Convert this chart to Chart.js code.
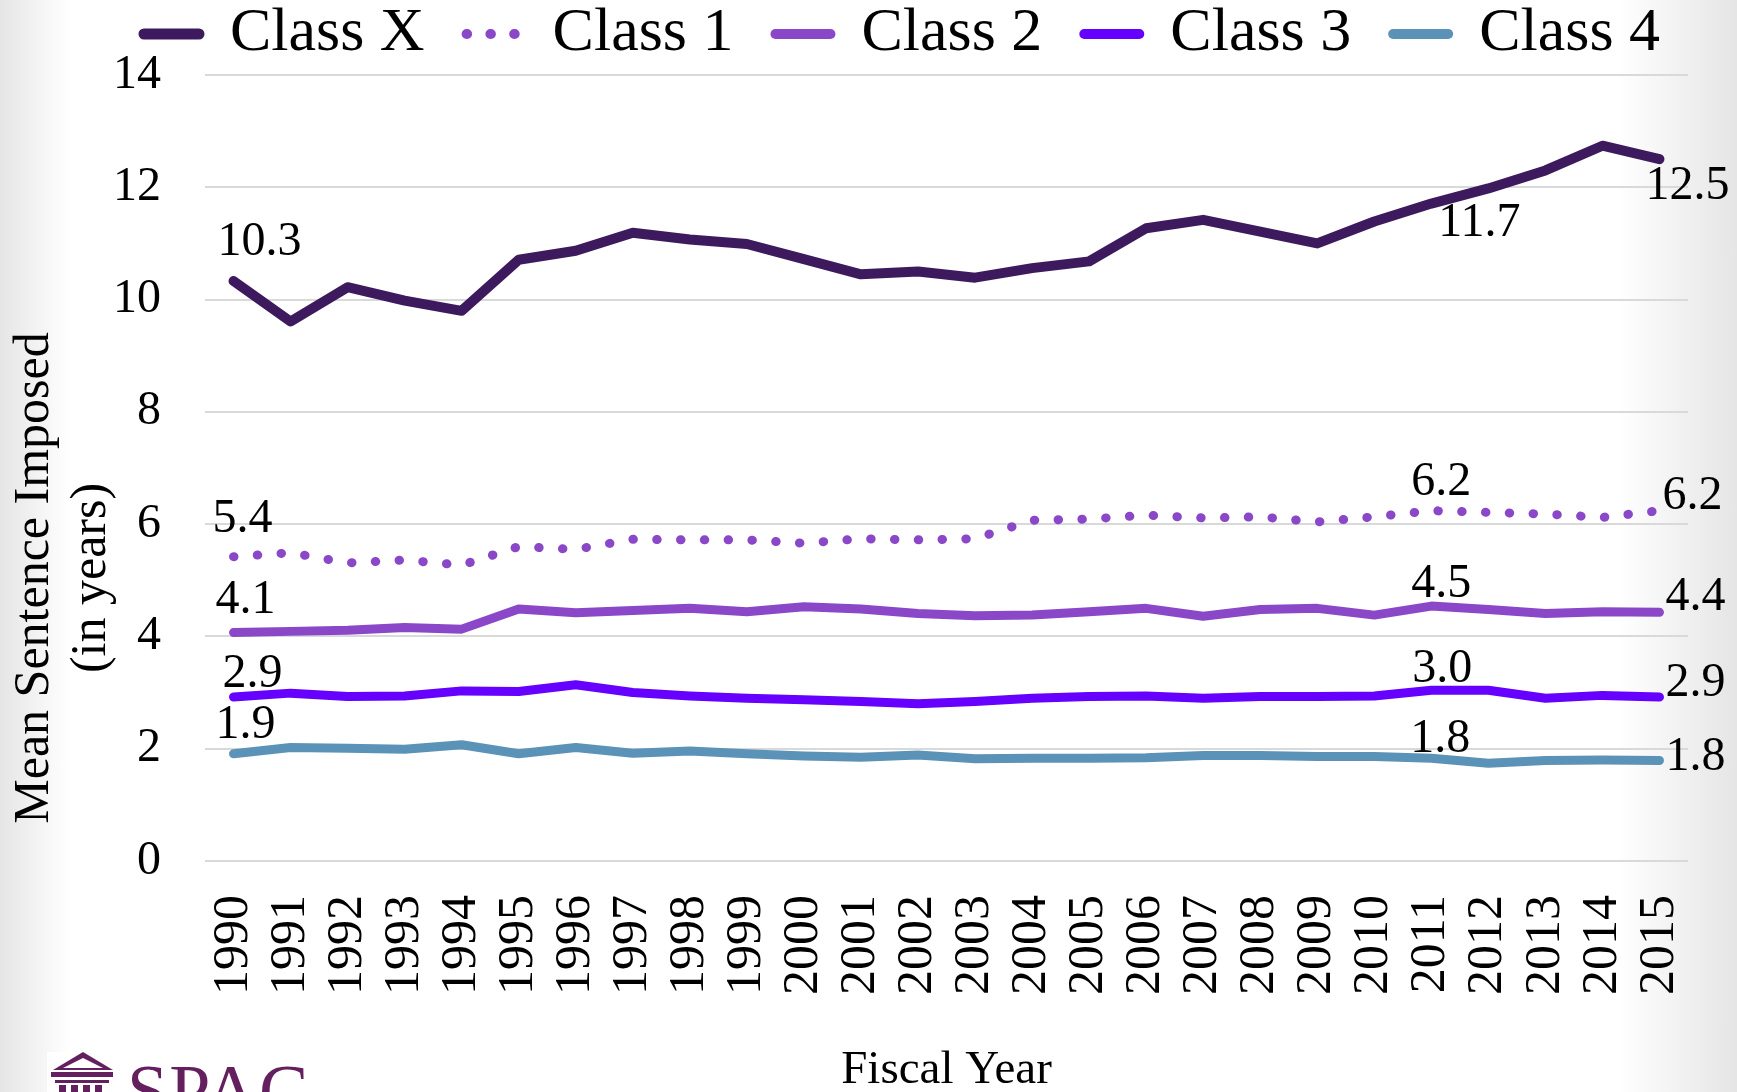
<!DOCTYPE html>
<html>
<head>
<meta charset="utf-8">
<script src="https://cdn.jsdelivr.net/npm/chart.js@4.4.1/dist/chart.umd.min.js"></script>
<style>
  html, body { margin: 0; padding: 0; width: 1737px; height: 1092px; overflow: hidden; }
  body {
    position: relative;
    background:
      linear-gradient(to right, rgba(0,0,0,0.10) 0px, rgba(0,0,0,0) 70px),
      linear-gradient(to left, rgba(0,0,0,0.10) 0px, rgba(0,0,0,0) 120px),
      #ffffff;
  }
  #c { position: absolute; left: 0; top: -39px; }
  #logo { position: absolute; left: 47px; top: 1052px; width: 273px; height: 60px; background: #fff; overflow: hidden; }
  #logo .txt { position: absolute; left: 80px; top: 2px; font-family: "Liberation Serif", serif; font-size: 74px; line-height: 74px; color: #641f5f; letter-spacing: 1px; }
  #logo .roof { position: absolute; left: 6px; top: 0; width: 0; height: 0; border-left: 30px solid transparent; border-right: 30px solid transparent; border-bottom: 18px solid #641f5f; }
  #logo .roofin { position: absolute; left: 16px; top: 6px; width: 0; height: 0; border-left: 20px solid transparent; border-right: 20px solid transparent; border-bottom: 10px solid #fff; }
  #logo .bar { position: absolute; left: 4px; top: 20px; width: 62px; height: 5px; background: #641f5f; }
  #logo .bar2 { position: absolute; left: 8px; top: 28px; width: 54px; height: 3px; background: #641f5f; }
  #logo .col { position: absolute; top: 33px; width: 7px; height: 20px; background: #641f5f; }
</style>
</head>
<body>
<canvas id="c" width="1737" height="1131"></canvas>
<div id="logo">
  <div class="roof"></div><div class="roofin"></div>
  <div class="bar"></div><div class="bar2"></div>
  <div class="col" style="left:12px"></div><div class="col" style="left:24px"></div><div class="col" style="left:36px"></div><div class="col" style="left:48px"></div>
  <div class="txt">SPAC</div>
</div>
<script>
const years = ['1990','1991','1992','1993','1994','1995','1996','1997','1998','1999','2000','2001','2002','2003','2004','2005','2006','2007','2008','2009','2010','2011','2012','2013','2014','2015'];
const seriesNames = ['Class X', 'Class 1', 'Class 2', 'Class 3', 'Class 4'];
const classX = [10.33, 9.61, 10.22, 9.98, 9.80, 10.71, 10.87, 11.19, 11.07, 10.99, 10.72, 10.45, 10.50, 10.39, 10.56, 10.68, 11.27, 11.42, 11.21, 11.00, 11.39, 11.71, 11.98, 12.30, 12.74, 12.50];
const class1 = [5.42, 5.49, 5.31, 5.36, 5.27, 5.60, 5.55, 5.73, 5.72, 5.72, 5.66, 5.74, 5.72, 5.74, 6.07, 6.09, 6.16, 6.11, 6.13, 6.04, 6.13, 6.24, 6.21, 6.18, 6.12, 6.24];
const class2 = [4.07, 4.09, 4.11, 4.16, 4.13, 4.49, 4.42, 4.46, 4.50, 4.44, 4.53, 4.49, 4.41, 4.37, 4.38, 4.44, 4.50, 4.36, 4.48, 4.50, 4.38, 4.54, 4.48, 4.41, 4.44, 4.43];
const class3 = [2.92, 2.99, 2.93, 2.94, 3.03, 3.02, 3.14, 3.00, 2.94, 2.90, 2.87, 2.84, 2.80, 2.84, 2.90, 2.93, 2.94, 2.90, 2.93, 2.93, 2.94, 3.04, 3.04, 2.90, 2.95, 2.92];
const class4 = [1.91, 2.02, 2.01, 1.99, 2.07, 1.91, 2.02, 1.92, 1.96, 1.91, 1.87, 1.85, 1.89, 1.82, 1.83, 1.83, 1.84, 1.88, 1.88, 1.86, 1.86, 1.83, 1.74, 1.79, 1.80, 1.79];
const yTicks = [0, 2, 4, 6, 8, 10, 12, 14];
const labeledIndices = [0, 21, 25];
const yTitleLines = ['Mean Sentence Imposed', '(in years)'];
const xTitle = 'Fiscal Year';

// styles (kept separate from data)
const colors = ['#3d1a5e', '#8a48c9', '#8a48c9', '#6600ff', '#5b93b8'];
const widths = [10, 9, 9, 9, 9];
const legendWidths = [11, 10, 10, 10, 10];
const dashes = [[], [0.5, 23.3], [], [], []];
const labelOffsets = [
  [[26, -39], [48, 20], [28, 27]],
  [[9, -37], [10, -28], [33, -14]],
  [[12, -32], [10, -22], [36, -15]],
  [[19, -23], [11, -21], [36, -14]],
  [[12, -28], [9, -19], [36, -3]]
];
const FONT = '"Liberation Serif", "Times New Roman", serif';

const seriesValues = [classX, class1, class2, class3, class4];
const datasets = seriesValues.map((vals, i) => ({
  label: seriesNames[i],
  data: vals,
  borderColor: colors[i],
  backgroundColor: colors[i],
  borderWidth: widths[i],
  borderDash: dashes[i],
  borderCapStyle: 'round',
  borderJoinStyle: 'round',
  pointRadius: 0,
  pointHoverRadius: 0,
  tension: 0,
  fill: false,
  yAxisID: 'y'
}));

const dataLabelPlugin = {
  id: 'dataLabels',
  afterDatasetsDraw(chart) {
    const ctx = chart.ctx;
    ctx.save();
    ctx.font = '48px ' + FONT;
    ctx.fillStyle = '#000';
    ctx.textAlign = 'center';
    ctx.textBaseline = 'middle';
    chart.data.datasets.forEach((ds, i) => {
      const meta = chart.getDatasetMeta(i);
      labeledIndices.forEach((j, k) => {
        const p = meta.data[j];
        const off = labelOffsets[i][k];
        ctx.fillText(ds.data[j].toFixed(1), p.x + off[0], p.y + off[1]);
      });
    });
    ctx.restore();
  }
};

const yTitlePlugin = {
  id: 'yTitle',
  afterDraw(chart) {
    const a = chart.chartArea;
    const ctx = chart.ctx;
    ctx.save();
    ctx.font = '50px ' + FONT;
    ctx.fillStyle = '#000';
    ctx.textAlign = 'center';
    ctx.textBaseline = 'alphabetic';
    ctx.translate(48, (a.top + a.bottom) / 2 + 110);
    ctx.rotate(-Math.PI / 2);
    yTitleLines.forEach((t, i) => ctx.fillText(t, 0, i * 57));
    ctx.restore();
  }
};

new Chart(document.getElementById('c'), {
  type: 'line',
  data: { labels: years, datasets },
  options: {
    responsive: false,
    maintainAspectRatio: false,
    animation: false,
    devicePixelRatio: 1,
    events: [],
    layout: { padding: { top: 0, left: 67, right: 0, bottom: 0 } },
    plugins: {
      tooltip: { enabled: false },
      legend: {
        position: 'top',
        align: 'center',
        labels: {
          usePointStyle: true,
          pointStyleWidth: 55,
          padding: 42,
          color: '#000',
          font: { family: FONT, size: 62 },
          generateLabels(chart) {
            return chart.data.datasets.map((ds, i) => ({
              text: ds.label,
              datasetIndex: i,
              pointStyle: 'line',
              strokeStyle: ds.borderColor,
              fillStyle: ds.borderColor,
              lineWidth: legendWidths[i],
              lineDash: ds.borderDash,
              lineCap: 'round',
              hidden: false,
              fontColor: '#000'
            }));
          }
        }
      }
    },
    scales: {
      x: {
        type: 'category',
        offset: true,
        grid: { display: false, drawTicks: true, tickLength: 34 },
        border: { display: false },
        ticks: {
          autoSkip: false,
          minRotation: 90,
          maxRotation: 90,
          padding: 0,
          color: '#000',
          font: { family: FONT, size: 50 }
        },
        title: {
          display: true,
          text: xTitle,
          color: '#000',
          font: { family: FONT, size: 47, lineHeight: 0.92 },
          padding: { top: 0, bottom: 0 }
        },
        afterFit(scale) { scale.height = 231; }
      },
      y: {
        position: 'left',
        min: 0,
        max: 14,
        afterBuildTicks(scale) { scale.ticks = yTicks.map(v => ({ value: v })); },
        grid: { color: '#d9d9d9', lineWidth: 2, drawTicks: false },
        border: { display: false },
        ticks: {
          padding: 44,
          color: '#000',
          font: { family: FONT, size: 48 }
        },
        afterFit(scale) { scale.width = 138; }
      },
      yRight: {
        position: 'right',
        display: true,
        grid: { display: false, drawTicks: false },
        border: { display: false },
        ticks: { display: false },
        afterFit(scale) { scale.width = 49; }
      }
    }
  },
  plugins: [dataLabelPlugin, yTitlePlugin]
});
</script>
</body>
</html>
